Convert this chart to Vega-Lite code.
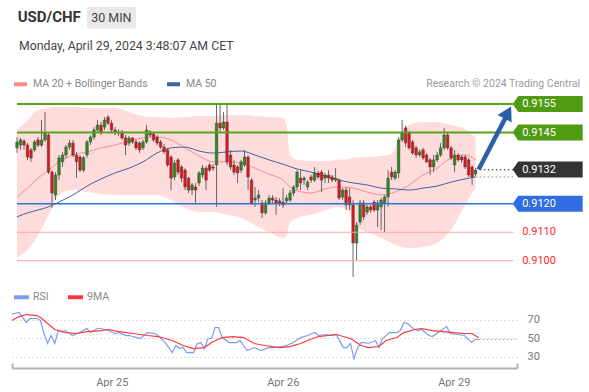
{
"$schema":"https://vega.github.io/schema/vega-lite/v6.json",
"padding":{"left":9,"top":0,"right":0,"bottom":0},
"background":"white",
"config":{"view":{"stroke":null},"font":"Roboto"},
"bounds":"flush",
"spacing":25,
"resolve":{"scale":{"x":"independent","y":"independent","color":"independent"}},
"datasets":{
"candles":[
{"t":0,"open":0.91396,"high":0.91434,"low":0.91378,"close":0.91417},
{"t":1,"open":0.91406,"high":0.91431,"low":0.91389,"close":0.91424},
{"t":2,"open":0.9142,"high":0.91427,"low":0.91389,"close":0.91406},
{"t":3,"open":0.91406,"high":0.91413,"low":0.91353,"close":0.91364},
{"t":4,"open":0.91389,"high":0.91396,"low":0.91347,"close":0.91361},
{"t":5,"open":0.91389,"high":0.91424,"low":0.91382,"close":0.91417},
{"t":6,"open":0.91424,"high":0.91434,"low":0.91399,"close":0.91406},
{"t":7,"open":0.91406,"high":0.91494,"low":0.91399,"close":0.91424},
{"t":8,"open":0.91424,"high":0.91522,"low":0.91417,"close":0.91448},
{"t":9,"open":0.91441,"high":0.91448,"low":0.91304,"close":0.91311},
{"t":10,"open":0.91311,"high":0.91318,"low":0.91185,"close":0.91238},
{"t":11,"open":0.91231,"high":0.91311,"low":0.91213,"close":0.91301},
{"t":12,"open":0.91301,"high":0.91371,"low":0.91283,"close":0.91361},
{"t":13,"open":0.91347,"high":0.91382,"low":0.91329,"close":0.91371},
{"t":14,"open":0.91371,"high":0.91406,"low":0.91361,"close":0.91399},
{"t":15,"open":0.91399,"high":0.91424,"low":0.91389,"close":0.91413},
{"t":16,"open":0.91413,"high":0.91424,"low":0.91364,"close":0.91371},
{"t":17,"open":0.91371,"high":0.91382,"low":0.9129,"close":0.91347},
{"t":18,"open":0.91364,"high":0.91371,"low":0.91311,"close":0.91318},
{"t":19,"open":0.91318,"high":0.91368,"low":0.91311,"close":0.91361},
{"t":20,"open":0.91371,"high":0.91424,"low":0.91361,"close":0.91417},
{"t":21,"open":0.91417,"high":0.91441,"low":0.91406,"close":0.91434},
{"t":22,"open":0.91434,"high":0.91469,"low":0.91424,"close":0.91459},
{"t":23,"open":0.91459,"high":0.91494,"low":0.91448,"close":0.91476},
{"t":24,"open":0.91476,"high":0.91487,"low":0.91441,"close":0.91452},
{"t":25,"open":0.91469,"high":0.91504,"low":0.91459,"close":0.91494},
{"t":26,"open":0.91504,"high":0.91511,"low":0.91476,"close":0.91483},
{"t":27,"open":0.91483,"high":0.91494,"low":0.91448,"close":0.91459},
{"t":28,"open":0.91459,"high":0.91469,"low":0.91441,"close":0.91448},
{"t":29,"open":0.91448,"high":0.91462,"low":0.91438,"close":0.91452},
{"t":30,"open":0.91452,"high":0.91459,"low":0.91424,"close":0.91431},
{"t":31,"open":0.91431,"high":0.91441,"low":0.91371,"close":0.91406},
{"t":32,"open":0.91413,"high":0.91438,"low":0.91403,"close":0.91431},
{"t":33,"open":0.91431,"high":0.91434,"low":0.9141,"close":0.91417},
{"t":34,"open":0.91417,"high":0.91424,"low":0.91389,"close":0.91396},
{"t":35,"open":0.91413,"high":0.9142,"low":0.91378,"close":0.91389},
{"t":36,"open":0.91396,"high":0.91424,"low":0.91389,"close":0.91417},
{"t":37,"open":0.91417,"high":0.91476,"low":0.9141,"close":0.91459},
{"t":38,"open":0.91452,"high":0.91459,"low":0.91434,"close":0.91441},
{"t":39,"open":0.91445,"high":0.91452,"low":0.91417,"close":0.91424},
{"t":40,"open":0.91434,"high":0.91441,"low":0.91406,"close":0.91413},
{"t":41,"open":0.91417,"high":0.91424,"low":0.91392,"close":0.91399},
{"t":42,"open":0.91399,"high":0.9141,"low":0.91375,"close":0.91382},
{"t":43,"open":0.91389,"high":0.91396,"low":0.91329,"close":0.91336},
{"t":44,"open":0.91364,"high":0.91371,"low":0.91248,"close":0.9129},
{"t":45,"open":0.91294,"high":0.91354,"low":0.91283,"close":0.91343},
{"t":46,"open":0.91354,"high":0.91361,"low":0.91301,"close":0.91311},
{"t":47,"open":0.91329,"high":0.91336,"low":0.91276,"close":0.9129},
{"t":48,"open":0.91318,"high":0.91325,"low":0.91248,"close":0.91259},
{"t":49,"open":0.9129,"high":0.91294,"low":0.91238,"close":0.91248},
{"t":50,"open":0.91248,"high":0.91273,"low":0.91231,"close":0.91266},
{"t":51,"open":0.91259,"high":0.91273,"low":0.91203,"close":0.91248},
{"t":52,"open":0.91273,"high":0.91315,"low":0.91262,"close":0.91308},
{"t":53,"open":0.91301,"high":0.91336,"low":0.9129,"close":0.91325},
{"t":54,"open":0.91325,"high":0.91332,"low":0.91248,"close":0.91283},
{"t":55,"open":0.91336,"high":0.91343,"low":0.91311,"close":0.91318},
{"t":56,"open":0.91329,"high":0.91339,"low":0.91315,"close":0.91325},
{"t":57,"open":0.91336,"high":0.91554,"low":0.91189,"close":0.91483},
{"t":58,"open":0.91483,"high":0.91554,"low":0.91452,"close":0.91466},
{"t":59,"open":0.91466,"high":0.91522,"low":0.91459,"close":0.91487},
{"t":60,"open":0.91487,"high":0.91554,"low":0.91336,"close":0.91347},
{"t":61,"open":0.91371,"high":0.91389,"low":0.91318,"close":0.91329},
{"t":62,"open":0.91336,"high":0.91354,"low":0.91301,"close":0.91311},
{"t":63,"open":0.91329,"high":0.91336,"low":0.91273,"close":0.91308},
{"t":64,"open":0.91318,"high":0.91354,"low":0.91308,"close":0.91347},
{"t":65,"open":0.91336,"high":0.91389,"low":0.91329,"close":0.91364},
{"t":66,"open":0.91364,"high":0.91371,"low":0.91248,"close":0.91294},
{"t":67,"open":0.91283,"high":0.9129,"low":0.91196,"close":0.91203},
{"t":68,"open":0.91213,"high":0.91259,"low":0.91189,"close":0.9122},
{"t":69,"open":0.9122,"high":0.91248,"low":0.91206,"close":0.91231},
{"t":70,"open":0.91203,"high":0.91213,"low":0.9115,"close":0.91168},
{"t":71,"open":0.91168,"high":0.91213,"low":0.91161,"close":0.91203},
{"t":72,"open":0.91203,"high":0.91231,"low":0.91196,"close":0.9122},
{"t":73,"open":0.9122,"high":0.91231,"low":0.91203,"close":0.91213},
{"t":74,"open":0.91213,"high":0.91224,"low":0.91161,"close":0.91203},
{"t":75,"open":0.9121,"high":0.9122,"low":0.91192,"close":0.91203},
{"t":76,"open":0.91206,"high":0.91255,"low":0.91185,"close":0.91196},
{"t":77,"open":0.9121,"high":0.91231,"low":0.91199,"close":0.9122},
{"t":78,"open":0.91213,"high":0.91248,"low":0.91206,"close":0.91238},
{"t":79,"open":0.91238,"high":0.91266,"low":0.91227,"close":0.91259},
{"t":80,"open":0.91259,"high":0.91318,"low":0.91248,"close":0.91311},
{"t":81,"open":0.9129,"high":0.91318,"low":0.91248,"close":0.91273},
{"t":82,"open":0.91283,"high":0.91297,"low":0.91266,"close":0.9129},
{"t":83,"open":0.91259,"high":0.91283,"low":0.91248,"close":0.91276},
{"t":84,"open":0.91294,"high":0.91301,"low":0.91273,"close":0.91283},
{"t":85,"open":0.91283,"high":0.91329,"low":0.91276,"close":0.91308},
{"t":86,"open":0.91308,"high":0.91315,"low":0.91287,"close":0.91294},
{"t":87,"open":0.91311,"high":0.91318,"low":0.91241,"close":0.91283},
{"t":88,"open":0.9129,"high":0.91308,"low":0.91273,"close":0.91301},
{"t":89,"open":0.91301,"high":0.91318,"low":0.91273,"close":0.9129},
{"t":90,"open":0.91294,"high":0.91301,"low":0.91276,"close":0.91283},
{"t":91,"open":0.91283,"high":0.91325,"low":0.91276,"close":0.9129},
{"t":92,"open":0.91283,"high":0.9129,"low":0.91213,"close":0.9122},
{"t":93,"open":0.91224,"high":0.91255,"low":0.91213,"close":0.91248},
{"t":94,"open":0.91248,"high":0.91259,"low":0.91178,"close":0.91196},
{"t":95,"open":0.91224,"high":0.91255,"low":0.91178,"close":0.91196},
{"t":96,"open":0.91196,"high":0.91213,"low":0.90943,"close":0.91062},
{"t":97,"open":0.91062,"high":0.91136,"low":0.91003,"close":0.91125},
{"t":98,"open":0.91136,"high":0.91213,"low":0.91125,"close":0.91203},
{"t":99,"open":0.91203,"high":0.91213,"low":0.91143,"close":0.91154},
{"t":100,"open":0.91171,"high":0.91196,"low":0.91161,"close":0.91189},
{"t":101,"open":0.91189,"high":0.91196,"low":0.91168,"close":0.91178},
{"t":102,"open":0.91206,"high":0.91213,"low":0.91171,"close":0.91178},
{"t":103,"open":0.91178,"high":0.91213,"low":0.91118,"close":0.91203},
{"t":104,"open":0.91189,"high":0.9122,"low":0.91108,"close":0.91213},
{"t":105,"open":0.91203,"high":0.91231,"low":0.91101,"close":0.91224},
{"t":106,"open":0.91224,"high":0.91318,"low":0.91189,"close":0.9129},
{"t":107,"open":0.91311,"high":0.91329,"low":0.91283,"close":0.91294},
{"t":108,"open":0.9129,"high":0.91318,"low":0.91283,"close":0.91311},
{"t":109,"open":0.91308,"high":0.91434,"low":0.9129,"close":0.91424},
{"t":110,"open":0.91424,"high":0.91494,"low":0.91417,"close":0.91448},
{"t":111,"open":0.91466,"high":0.91473,"low":0.91399,"close":0.91413},
{"t":112,"open":0.91448,"high":0.91455,"low":0.91389,"close":0.91396},
{"t":113,"open":0.91417,"high":0.91424,"low":0.91371,"close":0.91378},
{"t":114,"open":0.91396,"high":0.91403,"low":0.91361,"close":0.91371},
{"t":115,"open":0.91371,"high":0.91389,"low":0.91364,"close":0.91382},
{"t":116,"open":0.91389,"high":0.91396,"low":0.91353,"close":0.91361},
{"t":117,"open":0.91371,"high":0.91378,"low":0.91343,"close":0.91347},
{"t":118,"open":0.91354,"high":0.91361,"low":0.91301,"close":0.91329},
{"t":119,"open":0.91329,"high":0.91371,"low":0.91311,"close":0.91354},
{"t":120,"open":0.91354,"high":0.91382,"low":0.91347,"close":0.91371},
{"t":121,"open":0.91371,"high":0.91413,"low":0.91364,"close":0.91396},
{"t":122,"open":0.91396,"high":0.91466,"low":0.91389,"close":0.91441},
{"t":123,"open":0.91441,"high":0.91452,"low":0.91389,"close":0.91396},
{"t":124,"open":0.91396,"high":0.91403,"low":0.91353,"close":0.91361},
{"t":125,"open":0.91336,"high":0.91389,"low":0.91311,"close":0.91371},
{"t":126,"open":0.91371,"high":0.91378,"low":0.91347,"close":0.91354},
{"t":127,"open":0.91364,"high":0.91371,"low":0.91343,"close":0.91354},
{"t":128,"open":0.91364,"high":0.91371,"low":0.91322,"close":0.91329},
{"t":129,"open":0.91354,"high":0.91361,"low":0.91294,"close":0.91301},
{"t":130,"open":0.91329,"high":0.91336,"low":0.91266,"close":0.91294},
{"t":131,"open":0.91304,"high":0.91325,"low":0.91297,"close":0.91318}
],
"bb":[
{"t":0,"upper":0.91459,"lower":0.9101},{"t":3,"upper":0.91494,"lower":0.91038},{"t":6,"upper":0.91529,"lower":0.9109},{"t":9,"upper":0.91536,"lower":0.91161},{"t":12,"upper":0.9154,"lower":0.91231},{"t":16,"upper":0.9154,"lower":0.91248},{"t":20,"upper":0.91536,"lower":0.91241},{"t":24,"upper":0.91536,"lower":0.91234},{"t":28,"upper":0.91536,"lower":0.91231},{"t":32,"upper":0.91522,"lower":0.91231},{"t":36,"upper":0.91508,"lower":0.91231},{"t":40,"upper":0.91504,"lower":0.91231},{"t":44,"upper":0.91501,"lower":0.91213},{"t":48,"upper":0.91504,"lower":0.91185},{"t":52,"upper":0.91508,"lower":0.91171},{"t":56,"upper":0.91508,"lower":0.91171},{"t":60,"upper":0.91511,"lower":0.91161},{"t":64,"upper":0.91511,"lower":0.9115},{"t":68,"upper":0.91508,"lower":0.91125},{"t":72,"upper":0.91504,"lower":0.91101},{"t":76,"upper":0.91501,"lower":0.9108},{"t":77,"upper":0.91476,"lower":0.91087},{"t":78,"upper":0.91371,"lower":0.91136},{"t":80,"upper":0.91354,"lower":0.9115},{"t":84,"upper":0.9135,"lower":0.91161},{"t":88,"upper":0.9135,"lower":0.91178},{"t":92,"upper":0.91354,"lower":0.91189},{"t":95,"upper":0.91357,"lower":0.91171},{"t":96,"upper":0.91361,"lower":0.91125},{"t":100,"upper":0.91364,"lower":0.91101},{"t":104,"upper":0.91368,"lower":0.9108},{"t":107,"upper":0.91375,"lower":0.91062},{"t":109,"upper":0.91424,"lower":0.91052},{"t":110,"upper":0.91452,"lower":0.91048},{"t":112,"upper":0.91476,"lower":0.91045},{"t":116,"upper":0.91487,"lower":0.91048},{"t":120,"upper":0.91487,"lower":0.91062},{"t":124,"upper":0.91476,"lower":0.91108},{"t":128,"upper":0.91462,"lower":0.91196},{"t":131,"upper":0.91431,"lower":0.91259}
],
"ma":[
{"series":"MA 20 + Bollinger Bands","t":0,"value":0.91224},{"series":"MA 20 + Bollinger Bands","t":3,"value":0.91255},{"series":"MA 20 + Bollinger Bands","t":6,"value":0.9129},{"series":"MA 20 + Bollinger Bands","t":9,"value":0.91318},{"series":"MA 20 + Bollinger Bands","t":12,"value":0.91347},{"series":"MA 20 + Bollinger Bands","t":16,"value":0.91371},{"series":"MA 20 + Bollinger Bands","t":20,"value":0.91382},{"series":"MA 20 + Bollinger Bands","t":24,"value":0.91396},{"series":"MA 20 + Bollinger Bands","t":28,"value":0.91406},{"series":"MA 20 + Bollinger Bands","t":32,"value":0.9142},{"series":"MA 20 + Bollinger Bands","t":36,"value":0.91431},{"series":"MA 20 + Bollinger Bands","t":40,"value":0.91434},{"series":"MA 20 + Bollinger Bands","t":44,"value":0.91424},{"series":"MA 20 + Bollinger Bands","t":48,"value":0.91396},{"series":"MA 20 + Bollinger Bands","t":52,"value":0.91368},{"series":"MA 20 + Bollinger Bands","t":56,"value":0.91347},{"series":"MA 20 + Bollinger Bands","t":60,"value":0.91347},{"series":"MA 20 + Bollinger Bands","t":64,"value":0.91343},{"series":"MA 20 + Bollinger Bands","t":68,"value":0.91325},{"series":"MA 20 + Bollinger Bands","t":72,"value":0.91304},{"series":"MA 20 + Bollinger Bands","t":76,"value":0.91283},{"series":"MA 20 + Bollinger Bands","t":78,"value":0.91259},{"series":"MA 20 + Bollinger Bands","t":80,"value":0.91245},{"series":"MA 20 + Bollinger Bands","t":84,"value":0.91238},{"series":"MA 20 + Bollinger Bands","t":88,"value":0.91252},{"series":"MA 20 + Bollinger Bands","t":92,"value":0.91259},{"series":"MA 20 + Bollinger Bands","t":96,"value":0.91255},{"series":"MA 20 + Bollinger Bands","t":100,"value":0.91241},{"series":"MA 20 + Bollinger Bands","t":104,"value":0.91231},{"series":"MA 20 + Bollinger Bands","t":108,"value":0.91241},{"series":"MA 20 + Bollinger Bands","t":112,"value":0.91266},{"series":"MA 20 + Bollinger Bands","t":116,"value":0.91301},{"series":"MA 20 + Bollinger Bands","t":120,"value":0.91325},{"series":"MA 20 + Bollinger Bands","t":124,"value":0.91361},{"series":"MA 20 + Bollinger Bands","t":128,"value":0.91371},{"series":"MA 20 + Bollinger Bands","t":131,"value":0.91354},
{"series":"MA 50","t":0,"value":0.91154},{"series":"MA 50","t":3,"value":0.91168},{"series":"MA 50","t":6,"value":0.91178},{"series":"MA 50","t":9,"value":0.91189},{"series":"MA 50","t":12,"value":0.91206},{"series":"MA 50","t":16,"value":0.91231},{"series":"MA 50","t":20,"value":0.91262},{"series":"MA 50","t":24,"value":0.91287},{"series":"MA 50","t":28,"value":0.91308},{"series":"MA 50","t":32,"value":0.91325},{"series":"MA 50","t":36,"value":0.91347},{"series":"MA 50","t":40,"value":0.91378},{"series":"MA 50","t":44,"value":0.91396},{"series":"MA 50","t":48,"value":0.91399},{"series":"MA 50","t":52,"value":0.91385},{"series":"MA 50","t":56,"value":0.91378},{"series":"MA 50","t":60,"value":0.91382},{"series":"MA 50","t":64,"value":0.91385},{"series":"MA 50","t":68,"value":0.91371},{"series":"MA 50","t":72,"value":0.91354},{"series":"MA 50","t":76,"value":0.91339},{"series":"MA 50","t":80,"value":0.91322},{"series":"MA 50","t":84,"value":0.91311},{"series":"MA 50","t":88,"value":0.91297},{"series":"MA 50","t":92,"value":0.91283},{"series":"MA 50","t":96,"value":0.91273},{"series":"MA 50","t":100,"value":0.91266},{"series":"MA 50","t":104,"value":0.91255},{"series":"MA 50","t":108,"value":0.91252},{"series":"MA 50","t":112,"value":0.91248},{"series":"MA 50","t":116,"value":0.91255},{"series":"MA 50","t":120,"value":0.91262},{"series":"MA 50","t":124,"value":0.91276},{"series":"MA 50","t":128,"value":0.91287},{"series":"MA 50","t":131,"value":0.91294}
],
"levels":[
{"kind":"R","price":0.9155},{"kind":"R","price":0.9145},{"kind":"Last","price":0.9132},{"kind":"P","price":0.912},{"kind":"S","price":0.911},{"kind":"S","price":0.91}
],
"rsi":[
{"series":"RSI","t":0,"value":76},{"series":"RSI","t":2,"value":77.6},{"series":"RSI","t":4,"value":66.8},{"series":"RSI","t":5,"value":71.1},{"series":"RSI","t":7,"value":71.1},{"series":"RSI","t":8,"value":68.9},{"series":"RSI","t":9,"value":54.9},{"series":"RSI","t":10,"value":44.1},{"series":"RSI","t":11,"value":52.7},{"series":"RSI","t":12,"value":44.1},{"series":"RSI","t":13,"value":58.1},{"series":"RSI","t":14,"value":57},{"series":"RSI","t":15,"value":58.1},{"series":"RSI","t":17,"value":52.7},{"series":"RSI","t":19,"value":55.9},{"series":"RSI","t":21,"value":60.3},{"series":"RSI","t":22,"value":55.9},{"series":"RSI","t":24,"value":60.3},{"series":"RSI","t":25,"value":60.3},{"series":"RSI","t":27,"value":58.1},{"series":"RSI","t":29,"value":54.9},{"series":"RSI","t":30,"value":55.9},{"series":"RSI","t":32,"value":52.7},{"series":"RSI","t":33,"value":52.7},{"series":"RSI","t":35,"value":50.5},{"series":"RSI","t":36,"value":49.5},{"series":"RSI","t":38,"value":55.9},{"series":"RSI","t":40,"value":54.9},{"series":"RSI","t":41,"value":52.7},{"series":"RSI","t":43,"value":45.1},{"series":"RSI","t":45,"value":34.3},{"series":"RSI","t":46,"value":41.9},{"series":"RSI","t":47,"value":38.6},{"series":"RSI","t":48,"value":40},{"series":"RSI","t":49,"value":34.3},{"series":"RSI","t":51,"value":34.3},{"series":"RSI","t":52,"value":44.1},{"series":"RSI","t":53,"value":45.1},{"series":"RSI","t":54,"value":38.6},{"series":"RSI","t":55,"value":49.5},{"series":"RSI","t":56,"value":49.5},{"series":"RSI","t":57,"value":61.4},{"series":"RSI","t":58,"value":61.4},{"series":"RSI","t":59,"value":50.5},{"series":"RSI","t":61,"value":45.1},{"series":"RSI","t":63,"value":45.1},{"series":"RSI","t":64,"value":47.3},{"series":"RSI","t":66,"value":36.5},{"series":"RSI","t":68,"value":39.7},{"series":"RSI","t":70,"value":36.5},{"series":"RSI","t":72,"value":39.7},{"series":"RSI","t":74,"value":39.7},{"series":"RSI","t":77,"value":41.9},{"series":"RSI","t":79,"value":45.1},{"series":"RSI","t":81,"value":50.5},{"series":"RSI","t":83,"value":52.7},{"series":"RSI","t":85,"value":55.9},{"series":"RSI","t":86,"value":52.7},{"series":"RSI","t":88,"value":53.8},{"series":"RSI","t":90,"value":52.7},{"series":"RSI","t":91,"value":53.8},{"series":"RSI","t":93,"value":39.7},{"series":"RSI","t":94,"value":39.7},{"series":"RSI","t":95,"value":44.1},{"series":"RSI","t":96,"value":27.8},{"series":"RSI","t":97,"value":39.7},{"series":"RSI","t":98,"value":45.1},{"series":"RSI","t":99,"value":45.1},{"series":"RSI","t":100,"value":44.1},{"series":"RSI","t":102,"value":47.3},{"series":"RSI","t":103,"value":39.7},{"series":"RSI","t":104,"value":49.5},{"series":"RSI","t":106,"value":55.9},{"series":"RSI","t":108,"value":55.9},{"series":"RSI","t":109,"value":58.1},{"series":"RSI","t":110,"value":66.8},{"series":"RSI","t":111,"value":65.7},{"series":"RSI","t":113,"value":59.2},{"series":"RSI","t":114,"value":58.1},{"series":"RSI","t":115,"value":59.2},{"series":"RSI","t":117,"value":52.7},{"series":"RSI","t":118,"value":51.6},{"series":"RSI","t":120,"value":57},{"series":"RSI","t":122,"value":62.4},{"series":"RSI","t":123,"value":54.9},{"series":"RSI","t":125,"value":53.8},{"series":"RSI","t":127,"value":52.7},{"series":"RSI","t":129,"value":45.1},{"series":"RSI","t":130,"value":48.4},{"series":"RSI","t":131,"value":48.4},
{"series":"9MA","t":0,"value":68.9},{"series":"9MA","t":2,"value":73.2},{"series":"9MA","t":4,"value":75.4},{"series":"9MA","t":7,"value":74.3},{"series":"9MA","t":8,"value":72.2},{"series":"9MA","t":10,"value":65.7},{"series":"9MA","t":12,"value":59.2},{"series":"9MA","t":15,"value":55.9},{"series":"9MA","t":18,"value":54.9},{"series":"9MA","t":21,"value":57},{"series":"9MA","t":25,"value":58.1},{"series":"9MA","t":27,"value":59.2},{"series":"9MA","t":30,"value":57},{"series":"9MA","t":34,"value":54.9},{"series":"9MA","t":38,"value":52.7},{"series":"9MA","t":41,"value":51.6},{"series":"9MA","t":45,"value":47.3},{"series":"9MA","t":48,"value":41.9},{"series":"9MA","t":51,"value":38.6},{"series":"9MA","t":54,"value":39.7},{"series":"9MA","t":56,"value":45.1},{"series":"9MA","t":59,"value":50.5},{"series":"9MA","t":62,"value":51.6},{"series":"9MA","t":65,"value":50.5},{"series":"9MA","t":68,"value":44.1},{"series":"9MA","t":71,"value":41.9},{"series":"9MA","t":75,"value":39.7},{"series":"9MA","t":78,"value":40.8},{"series":"9MA","t":81,"value":44.1},{"series":"9MA","t":83,"value":47.3},{"series":"9MA","t":86,"value":51.6},{"series":"9MA","t":91,"value":53.8},{"series":"9MA","t":95,"value":49.5},{"series":"9MA","t":98,"value":41.9},{"series":"9MA","t":100,"value":39.7},{"series":"9MA","t":103,"value":40.8},{"series":"9MA","t":105,"value":47.3},{"series":"9MA","t":108,"value":50.5},{"series":"9MA","t":110,"value":55.9},{"series":"9MA","t":113,"value":59.2},{"series":"9MA","t":115,"value":60.3},{"series":"9MA","t":118,"value":58.1},{"series":"9MA","t":121,"value":57},{"series":"9MA","t":124,"value":55.9},{"series":"9MA","t":127,"value":54.9},{"series":"9MA","t":129,"value":54.9},{"series":"9MA","t":131,"value":50.5}
]
},
"vconcat":[
{
"width":577,"height":280,
"layer":[
{"data":{"name":"bb"},"mark":{"type":"area","color":"#ffdcdc","opacity":1,"interpolate":"monotone"},
 "encoding":{"x":{"field":"t","type":"quantitative","scale":{"domain":[0,161.96],"nice":false,"zero":false},"axis":null},
  "y":{"field":"upper","type":"quantitative","scale":{"domain":[0.909325,0.919149],"nice":false,"zero":false},"axis":null},
  "y2":{"field":"lower"}}},
{"data":{"name":"ma"},"mark":{"type":"line","strokeWidth":1,"interpolate":"monotone"},
 "encoding":{"x":{"field":"t","type":"quantitative","scale":{"domain":[0,161.96],"nice":false,"zero":false},"axis":null},
  "y":{"field":"value","type":"quantitative","scale":{"domain":[0.909325,0.919149],"nice":false,"zero":false},"axis":null},
  "color":{"field":"series","type":"nominal","scale":{"domain":["MA 20 + Bollinger Bands","MA 50"],"range":["#f78d8d","#3d62a6"]},
   "legend":{"title":null,"orient":"none","legendX":0,"legendY":75.5,"direction":"horizontal","symbolType":"M-1,0H1","symbolSize":169,"symbolStrokeWidth":4,"labelFontSize":10.5,"labelColor":"#888888","labelOffset":4,"columnPadding":11,"padding":0,"labelFont":"Roboto"}}}},
{"data":{"name":"candles"},"mark":{"type":"rule","color":"#666666","strokeWidth":1},
 "encoding":{"x":{"field":"t","type":"quantitative","scale":{"domain":[0,161.96],"nice":false,"zero":false},"axis":null},
  "y":{"field":"low","type":"quantitative","scale":{"domain":[0.909325,0.919149],"nice":false,"zero":false},"axis":null},
  "y2":{"field":"high"}}},
{"data":{"name":"candles"},"mark":{"type":"bar","width":2.6,"stroke":"#333333","strokeWidth":0.4},
 "encoding":{"x":{"field":"t","type":"quantitative","scale":{"domain":[0,161.96],"nice":false,"zero":false},"axis":null},
  "y":{"field":"open","type":"quantitative","scale":{"domain":[0.909325,0.919149],"nice":false,"zero":false},"axis":null},
  "y2":{"field":"close"},
  "color":{"condition":{"test":"datum.close >= datum.open","value":"#2d8a1e"},"value":"#db1a1f"}}},
{"data":{"name":"levels"},"transform":[{"filter":"datum.kind=='R'"}],"mark":{"type":"rule","color":"#59a31f","strokeWidth":2},
 "encoding":{"x":{"datum":0,"type":"quantitative","scale":{"domain":[0,161.96],"nice":false,"zero":false},"axis":null},"x2":{"datum":141.75},
  "y":{"field":"price","type":"quantitative","scale":{"domain":[0.909325,0.919149],"nice":false,"zero":false},"axis":null}}},
{"data":{"name":"levels"},"transform":[{"filter":"datum.kind=='P'"}],"mark":{"type":"rule","color":"#2f6fe0","strokeWidth":1.6},
 "encoding":{"x":{"datum":0,"type":"quantitative","scale":{"domain":[0,161.96],"nice":false,"zero":false},"axis":null},"x2":{"datum":141.75},
  "y":{"field":"price","type":"quantitative","scale":{"domain":[0.909325,0.919149],"nice":false,"zero":false},"axis":null}}},
{"data":{"name":"levels"},"transform":[{"filter":"datum.kind=='S'"}],"mark":{"type":"rule","color":"#ffa3a3","strokeWidth":1.2},
 "encoding":{"x":{"datum":0,"type":"quantitative","scale":{"domain":[0,161.96],"nice":false,"zero":false},"axis":null},"x2":{"datum":141.75},
  "y":{"field":"price","type":"quantitative","scale":{"domain":[0.909325,0.919149],"nice":false,"zero":false},"axis":null}}},
{"data":{"name":"levels"},"transform":[{"filter":"datum.kind=='Last'"}],"mark":{"type":"rule","color":"#555555","strokeWidth":1.2,"strokeDash":[1.5,2.5]},
 "encoding":{"x":{"datum":132.2,"type":"quantitative","scale":{"domain":[0,161.96],"nice":false,"zero":false},"axis":null},"x2":{"datum":141.75},
  "y":{"field":"price","type":"quantitative","scale":{"domain":[0.909325,0.919149],"nice":false,"zero":false},"axis":null}}},
{"data":{"name":"ma"},"transform":[{"filter":"datum.series=='MA 50' && datum.t==131"}],"mark":{"type":"rule","color":"#8fa8d8","strokeWidth":1.2,"strokeDash":[1.5,2.5]},
 "encoding":{"x":{"field":"t","type":"quantitative","scale":{"domain":[0,161.96],"nice":false,"zero":false},"axis":null},"x2":{"datum":141.75},
  "y":{"field":"value","type":"quantitative","scale":{"domain":[0.909325,0.919149],"nice":false,"zero":false},"axis":null}}},
{"data":{"values":[{"t":131.85,"price":0.9132},{"t":139.6,"price":0.91503}]},"mark":{"type":"line","color":"#2b60a9","strokeWidth":4.5},
 "encoding":{"x":{"field":"t","type":"quantitative","scale":{"domain":[0,161.96],"nice":false,"zero":false},"axis":null},
  "y":{"field":"price","type":"quantitative","scale":{"domain":[0.909325,0.919149],"nice":false,"zero":false},"axis":null}}},
{"data":{"values":[{"t":140.21,"price":0.9152}]},"mark":{"type":"point","shape":"triangle-up","size":256,"angle":28,"filled":true,"opacity":1,"color":"#2b60a9"},
 "encoding":{"x":{"field":"t","type":"quantitative","scale":{"domain":[0,161.96],"nice":false,"zero":false},"axis":null},
  "y":{"field":"price","type":"quantitative","scale":{"domain":[0.909325,0.919149],"nice":false,"zero":false},"axis":null}}},
{"data":{"name":"levels"},"transform":[{"filter":"datum.kind!='S'"}],"mark":{"type":"point","shape":"M-1,0L-0.84,-0.229L1,-0.229L1,0.229L-0.84,0.229Z","size":4900,"filled":true,"opacity":1,"strokeWidth":0},
 "encoding":{"x":{"datum":151.58,"type":"quantitative","scale":{"domain":[0,161.96],"nice":false,"zero":false},"axis":null},
  "y":{"field":"price","type":"quantitative","scale":{"domain":[0.909325,0.919149],"nice":false,"zero":false},"axis":null},
  "color":{"condition":[{"test":"datum.kind=='R'","value":"#4f9b12"},{"test":"datum.kind=='P'","value":"#2e6ee0"}],"value":"#333333"}}},
{"data":{"name":"levels"},"transform":[{"filter":"datum.kind!='S'"}],"mark":{"type":"text","align":"left","baseline":"middle","fontSize":11,"color":"#ffffff"},
 "encoding":{"x":{"datum":144.3,"type":"quantitative","scale":{"domain":[0,161.96],"nice":false,"zero":false},"axis":null},
  "y":{"field":"price","type":"quantitative","scale":{"domain":[0.909325,0.919149],"nice":false,"zero":false},"axis":null},
  "text":{"field":"price","type":"quantitative","format":".4f"}}},
{"data":{"name":"levels"},"transform":[{"filter":"datum.kind=='S'"}],"mark":{"type":"text","align":"left","baseline":"middle","fontSize":11,"color":"#ff2a2a"},
 "encoding":{"x":{"datum":144.3,"type":"quantitative","scale":{"domain":[0,161.96],"nice":false,"zero":false},"axis":null},
  "y":{"field":"price","type":"quantitative","scale":{"domain":[0.909325,0.919149],"nice":false,"zero":false},"axis":null},
  "text":{"field":"price","type":"quantitative","format":".4f"}}},
{"data":{"values":[{"label":"30 MIN"}]},"mark":{"type":"rect","color":"#e9e9e9","cornerRadius":2},
 "encoding":{"x":{"datum":19.93,"type":"quantitative","scale":{"domain":[0,161.96],"nice":false,"zero":false},"axis":null},"x2":{"datum":33.96},
  "y":{"datum":0.918903,"type":"quantitative","scale":{"domain":[0.909325,0.919149],"nice":false,"zero":false},"axis":null},"y2":{"datum":0.918149}}},
{"data":{"values":[{"label":"30 MIN"}]},"mark":{"type":"text","align":"center","baseline":"middle","fontSize":12.5,"color":"#444444"},
 "encoding":{"x":{"datum":26.95,"type":"quantitative","scale":{"domain":[0,161.96],"nice":false,"zero":false},"axis":null},
  "y":{"datum":0.918535,"type":"quantitative","scale":{"domain":[0.909325,0.919149],"nice":false,"zero":false},"axis":null},
  "text":{"field":"label"}}},
{"data":{"values":[{"label":"USD/CHF"}]},"mark":{"type":"text","align":"left","baseline":"middle","fontSize":15,"fontWeight":"bold","color":"#333333"},
 "encoding":{"x":{"datum":0.2,"type":"quantitative","scale":{"domain":[0,161.96],"nice":false,"zero":false},"axis":null},
  "y":{"datum":0.918553,"type":"quantitative","scale":{"domain":[0.909325,0.919149],"nice":false,"zero":false},"axis":null},
  "text":{"field":"label"}}},
{"data":{"values":[{"label":"Monday, April 29, 2024 3:48:07 AM CET"}]},"mark":{"type":"text","align":"left","baseline":"middle","fontSize":12.3,"color":"#444444"},
 "encoding":{"x":{"datum":0.56,"type":"quantitative","scale":{"domain":[0,161.96],"nice":false,"zero":false},"axis":null},
  "y":{"datum":0.917535,"type":"quantitative","scale":{"domain":[0.909325,0.919149],"nice":false,"zero":false},"axis":null},
  "text":{"field":"label"}}},
{"data":{"values":[{"label":"Research © 2024 Trading Central"}]},"mark":{"type":"text","align":"right","baseline":"middle","fontSize":10.5,"color":"#999999"},
 "encoding":{"x":{"datum":160.84,"type":"quantitative","scale":{"domain":[0,161.96],"nice":false,"zero":false},"axis":null},
  "y":{"datum":0.916202,"type":"quantitative","scale":{"domain":[0.909325,0.919149],"nice":false,"zero":false},"axis":null},
  "text":{"field":"label"}}}
]
},
{
"width":505,"height":63,
"data":{"name":"rsi"},
"encoding":{
 "x":{"field":"t","type":"quantitative","scale":{"domain":[0,141.75],"nice":false,"zero":false},
  "axis":{"title":null,"values":[0,28,76,124,141.75],"labelExpr":"datum.value==28?'Apr 25':datum.value==76?'Apr 26':datum.value==124?'Apr 29':''","grid":false,"domainColor":"#b3b3b3","domainWidth":2,"tickColor":"#b3b3b3","tickWidth":2,"tickSize":-5,"tickOpacity":{"condition":{"test":"datum.value > 1 && datum.value < 141","value":0},"value":1},"labelPadding":13,"labelColor":"#777777","labelFontSize":11,"labelOverlap":false,"labelFlush":false}},
 "y":{"field":"value","type":"quantitative","scale":{"domain":[17.6,85.7],"nice":false,"zero":false},
  "axis":{"title":null,"orient":"right","values":[30,50,70],"grid":true,"gridColor":"#bbbbbb","gridDash":[1,3],"gridWidth":1,"domain":false,"ticks":false,"labelPadding":10,"labelColor":"#777777","labelFontSize":11,"labelOverlap":false,"labelBound":false,"labelFlush":false,"labelSeparation":0}}
},
"layer":[
{"mark":{"type":"line","strokeWidth":1.2},
 "encoding":{
  "color":{"field":"series","type":"nominal","scale":{"domain":["RSI","9MA"],"range":["#7b9cf0","#ff3838"]},
   "legend":{"title":null,"orient":"none","legendX":0,"legendY":-17.5,"direction":"horizontal","symbolType":"M-1,0H1","symbolSize":225,"symbolStrokeWidth":4,"labelFontSize":10.5,"labelColor":"#888888","labelOffset":2,"columnPadding":11,"padding":0}}}},
{"transform":[{"filter":"datum.series=='RSI' && datum.t==131"}],"mark":{"type":"rule","color":"#8ea8ee","strokeWidth":1.2,"strokeDash":[1.5,2.5]},
 "encoding":{"x2":{"datum":141.75}}}
]
}
]
}
